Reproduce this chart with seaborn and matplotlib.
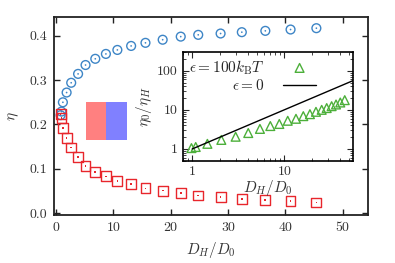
import matplotlib
matplotlib.use("Agg")
import matplotlib.pyplot as plt
import matplotlib.ticker as mticker
from matplotlib.patches import Rectangle
import seaborn as sns
import pandas as pd

# ---- data ----
dh_d0 = [0.8, 0.95, 1.2, 1.85, 2.65, 3.85, 5.15, 6.85, 8.7, 10.7,
         13.1, 15.6, 18.6, 21.75, 24.8, 28.7, 32.4, 36.5, 40.9, 45.4]
eta_blue = [0.221, 0.229, 0.250, 0.272, 0.294, 0.314, 0.334, 0.348, 0.359, 0.368,
            0.377, 0.384, 0.391, 0.398, 0.402, 0.405, 0.408, 0.411, 0.414, 0.417]
eta_red = [0.223, 0.214, 0.192, 0.170, 0.148, 0.127, 0.107, 0.093, 0.083, 0.073,
           0.066, 0.056, 0.051, 0.045, 0.040, 0.036, 0.032, 0.030, 0.027, 0.024]

inset_x = [0.98, 1.09, 1.46, 2.07, 2.96, 4.06, 5.44, 7.05, 8.83, 10.9,
           13.4, 16.1, 19.0, 22.1, 25.5, 28.9, 32.7, 36.5, 40.6, 45.4]
inset_ratio = [1.05, 1.12, 1.35, 1.7, 2.05, 2.55, 3.25, 3.85, 4.35, 5.25,
               5.9, 6.9, 7.75, 8.9, 10.0, 11.1, 12.4, 13.7, 15.4, 17.7]
line_x = [1, 60]
line_y = [1, 60]

main_xticks = [0, 10, 20, 30, 40, 50]
main_yticks = [0.0, 0.1, 0.2, 0.3, 0.4]
inset_xticks = [1, 10]
inset_yticks = [1, 10, 100]

label_eps100 = r"$\epsilon = 100k_\mathrm{B}T$"
label_eps0 = r"$\epsilon = 0$"

# ---- style ----
sns.set_style("ticks")
plt.rcParams["font.family"] = ["serif"]
plt.rcParams["font.serif"] = ["cmr10", "DejaVu Serif"]
plt.rcParams["mathtext.fontset"] = "cm"
plt.rcParams["axes.formatter.use_mathtext"] = True
plt.rcParams["axes.unicode_minus"] = False

BLUE = "#3d85c6"
RED = "#e8262c"
GREEN = "#4caf3a"

fig = plt.figure(figsize=(3.95, 2.63), dpi=100)
ax = fig.add_axes([0.1367, 0.1825, 0.7949, 0.7525])

df = pd.DataFrame({"x": dh_d0, "blue": eta_blue, "red": eta_red})
sns.scatterplot(data=df, x="x", y="blue", ax=ax, marker="o", s=40,
                facecolor="none", edgecolor=BLUE, linewidth=1.0, legend=False)
sns.scatterplot(data=df, x="x", y="blue", ax=ax, marker="o", s=1.5,
                color=BLUE, edgecolor="none", legend=False)
sns.scatterplot(data=df, x="x", y="red", ax=ax, marker="s", s=50,
                facecolor="none", edgecolor=RED, linewidth=1.0, legend=False)
sns.scatterplot(data=df, x="x", y="red", ax=ax, marker="s", s=1.5,
                color=RED, edgecolor="none", legend=False)

# red/blue pictogram
ax.add_patch(Rectangle((5.17, 0.164), 3.55, 0.086, facecolor="#ff8080",
                       edgecolor="none", zorder=1))
ax.add_patch(Rectangle((8.72, 0.164), 3.63, 0.086, facecolor="#8080ff",
                       edgecolor="none", zorder=1))

ax.set_xlim(-0.35, 54.4)
ax.set_ylim(-0.004, 0.442)
ax.set_xticks(main_xticks)
ax.set_yticks(main_yticks)
ax.yaxis.set_major_formatter(mticker.FormatStrFormatter("%.1f"))
ax.xaxis.set_major_formatter(mticker.FormatStrFormatter("%d"))
ax.tick_params(direction="in", top=True, right=True, length=4, width=1.0,
               labelsize=10, colors="#222222", labelcolor="#333333", pad=5)
for sp in ax.spines.values():
    sp.set_linewidth(1.3)
    sp.set_color("#222222")
ax.set_xlabel(r"$D_H/D_0$", fontsize=11, color="#333333", labelpad=4)
ax.set_ylabel(r"$\eta$", fontsize=11, color="#333333", labelpad=6)

# ---- inset ----
axin = fig.add_axes([0.4625, 0.389, 0.4304, 0.414])
dfi = pd.DataFrame({"x": inset_x, "r": inset_ratio})
dfl = pd.DataFrame({"x": line_x, "y": line_y})
sns.scatterplot(data=dfi, x="x", y="r", ax=axin, marker="^", s=40,
                facecolor="none", edgecolor=GREEN, linewidth=1.0,
                label=label_eps100)
sns.lineplot(data=dfl, x="x", y="y", ax=axin, color="black", linewidth=1.0,
             label=label_eps0)
axin.set_xscale("log")
axin.set_yscale("log")
axin.set_xlim(0.787, 55.4)
axin.set_ylim(0.5, 305)
axin.set_xticks(inset_xticks)
axin.set_yticks(inset_yticks)
axin.xaxis.set_major_formatter(mticker.FormatStrFormatter("%g"))
axin.yaxis.set_major_formatter(mticker.FormatStrFormatter("%g"))
axin.tick_params(which="both", direction="in", top=True, right=True,
                 labelsize=10, labelcolor="#333333")
axin.tick_params(which="major", length=4, width=0.8)
axin.tick_params(which="minor", length=2, width=0.6)
for sp in axin.spines.values():
    sp.set_linewidth(1.2)
    sp.set_color("black")
axin.set_xlabel(r"$D_H/D_0$", fontsize=11, color="#333333", labelpad=0)
axin.set_ylabel(r"$\eta_0/\eta_H$", fontsize=11, color="#333333", labelpad=2)
axin.legend(loc="upper left", frameon=False, markerfirst=False, fontsize=11,
            handlelength=2.2, borderaxespad=0.1, labelspacing=0.1,
            handletextpad=1.2, borderpad=0.3)

fig.savefig("out.png", dpi=100)
